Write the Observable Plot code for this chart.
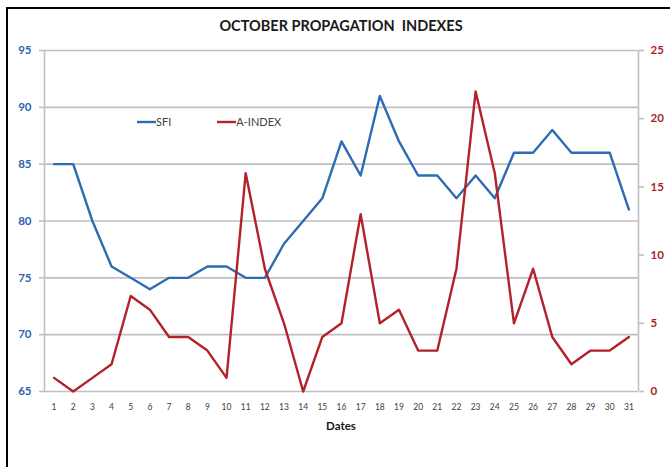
<!DOCTYPE html>
<html><head><meta charset="utf-8">
<script src="https://cdn.jsdelivr.net/npm/d3@7"></script>
<script src="https://cdn.jsdelivr.net/npm/@observablehq/plot@0.6"></script>
<style>
html,body{margin:0;padding:0;background:#fff;overflow:hidden;}
#wrap{position:relative;width:670px;height:467px;overflow:hidden;font-family:Lato,"Open Sans",sans-serif;}
#frame{position:absolute;left:6px;top:7px;width:720px;height:520px;border:2px solid #000;box-sizing:border-box;}
#chart{position:absolute;left:0;top:0;}
#title{position:absolute;left:0;width:682px;top:17px;text-align:center;font-weight:bold;font-size:14.5px;color:#1a1a1a;}
#xlabel{position:absolute;left:0;width:682px;top:419px;text-align:center;font-weight:bold;font-size:11.5px;color:#1a1a1a;}
#legend{position:absolute;top:115px;left:137px;font-size:11px;color:#404040;display:flex;gap:0;}
#legend .item{display:flex;align-items:center;margin-right:46px;}
#legend svg{display:block;}
</style></head><body>
<div id="wrap">
  <div id="frame"></div>
  <div id="chart"></div>
  <div id="title">OCTOBER PROPAGATION&nbsp; INDEXES</div>
  <div id="xlabel">Dates</div>
  <div id="legend"></div>
</div>
<script>
// ---- data ----
const days = [1,2,3,4,5,6,7,8,9,10,11,12,13,14,15,16,17,18,19,20,21,22,23,24,25,26,27,28,29,30,31];
const sfi = [85,85,80,76,75,74,75,75,76,76,75,75,78,80,82,87,84,91,87,84,84,82,84,82,86,86,88,86,86,86,81];
const aIndex = [1,0,1,2,7,6,4,4,3,1,16,9,5,0,4,5,13,5,6,3,3,9,22,16,5,9,4,2,3,3,4];
const leftTicks = [65,70,75,80,85,90,95];
const rightTicks = [0,5,10,15,20,25];
const seriesNames = ["SFI","A-INDEX"];
const colors = ["#2e6bb5","#b3212b"];

// map right-axis (A-INDEX) values onto left-axis domain
const L0 = 65, L1 = 95, R0 = 0, R1 = 25;
const toLeft = a => L0 + (a - R0) * (L1 - L0) / (R1 - R0);
const fromLeft = v => Math.round(R0 + (v - L0) * (R1 - R0) / (L1 - L0));

const table = days.map((d, i) => ({day: d, sfi: sfi[i], a: toLeft(aIndex[i])}));
const font = "Lato, 'Open Sans', sans-serif";

const chart = Plot.plot({
  width: 670, height: 467,
  marginLeft: 44, marginRight: 32, marginTop: 50, marginBottom: 76,
  style: {fontFamily: font, background: "transparent", overflow: "visible"},
  x: {domain: [0.5, 31.5]},
  y: {domain: [L0, L1]},
  marks: [
    Plot.gridY(leftTicks, {stroke: "#c0c0c0", strokeOpacity: 1, strokeWidth: 1.6}),
    Plot.ruleX([0.5, 31.5], {stroke: "#c0c0c0", strokeWidth: 1.6}),
    Plot.axisY({anchor: "left", ticks: leftTicks, tickSize: 5, tickPadding: 8, stroke: "#c0c0c0", strokeWidth: 1.6,
      fill: "#2e63ad", fontWeight: "bold", fontSize: 11.5, label: null}),
    Plot.axisY({anchor: "right", ticks: rightTicks.map(toLeft), tickFormat: fromLeft, tickSize: 5, tickPadding: 7,
      stroke: "#c0c0c0", strokeWidth: 1.6, fill: "#a91f2a", fontWeight: "bold", fontSize: 11.5, label: null}),
    Plot.axisX({anchor: "bottom", ticks: days, tickFormat: d => String(d), tickSize: 0, tickPadding: 12,
      fill: "#404040", fontSize: 8.5, label: null}),
    Plot.line(table, {x: "day", y: "sfi", stroke: colors[0], strokeWidth: 2.4}),
    Plot.line(table, {x: "day", y: "a", stroke: colors[1], strokeWidth: 2.4})
  ]
});
document.getElementById("chart").appendChild(chart);

// legend
const leg = document.getElementById("legend");
seriesNames.forEach((name, i) => {
  const item = document.createElement("div");
  item.className = "item";
  item.innerHTML = `<svg width="19" height="6"><line x1="0" x2="19" y1="3" y2="3" stroke="${colors[i]}" stroke-width="2.4"/></svg><span>${name}</span>`;
  leg.appendChild(item);
});
</script>
</body></html>
